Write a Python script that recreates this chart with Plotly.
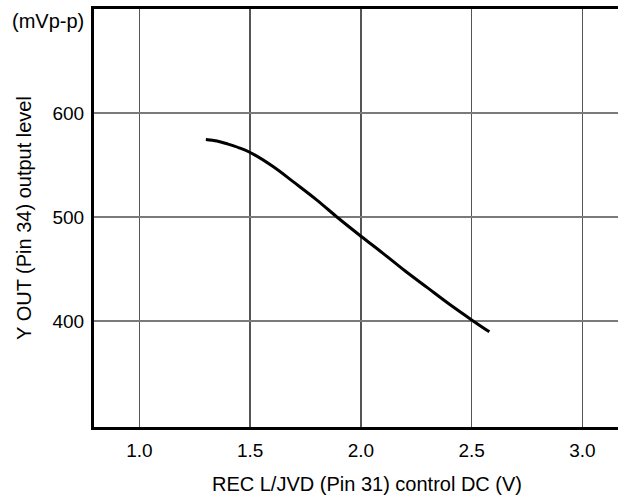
import plotly.graph_objects as go

voltage = [1.3, 1.35, 1.4, 1.45, 1.5, 1.6, 1.7, 1.8, 1.9, 2.0, 2.1, 2.2, 2.3, 2.4, 2.5, 2.58]
level = [574.5, 573, 570, 566.5, 562, 549, 533, 516.5, 498.5, 481.5, 465, 448, 432, 416, 401, 389.5]

x_ticks = [1.0, 1.5, 2.0, 2.5, 3.0]
x_tick_labels = ["1.0", "1.5", "2.0", "2.5", "3.0"]
y_ticks = [400, 500, 600]
y_tick_labels = ["400", "500", "600"]

FONT = "Liberation Sans, Arial, sans-serif"
FS = 19
TFS = 20

fig = go.Figure()
fig.add_trace(go.Scatter(
    x=voltage, y=level, mode="lines",
    line=dict(color="black", width=3, shape="spline", smoothing=1.0),
    showlegend=False, hoverinfo="skip",
))

fig.update_layout(
    width=640, height=497,
    margin=dict(l=94, r=0, t=9, b=70, autoexpand=False),
    paper_bgcolor="white", plot_bgcolor="white",
    font=dict(family=FONT, size=FS, color="black"),
    xaxis=dict(
        range=[0.795, 3.26],
        tickvals=x_ticks, ticktext=x_tick_labels,
        showgrid=True, gridcolor="#555555", gridwidth=1.5,
        showline=True, linecolor="black", linewidth=3, mirror=True,
        ticks="", zeroline=False, automargin=False,
        tickfont=dict(size=FS), ticklabelstandoff=4,
        title=dict(text="REC L/JVD (Pin 31) control DC (V)", font=dict(size=TFS), standoff=18),
    ),
    yaxis=dict(
        range=[298, 700],
        tickvals=y_ticks, ticktext=y_tick_labels,
        showgrid=True, gridcolor="#7a7a7a", gridwidth=1.5,
        showline=True, linecolor="black", linewidth=3,
        ticks="", zeroline=False, automargin=False,
        tickfont=dict(size=FS), ticklabelstandoff=3,
        title=dict(text="Y OUT (Pin 34) output level", font=dict(size=TFS), standoff=16),
    ),
    annotations=[dict(
        text="(mVp-p)", xref="paper", yref="paper", x=0, y=1.0,
        xanchor="right", yanchor="middle", xshift=-8, yshift=-12, showarrow=False,
        font=dict(size=TFS),
    )],
)

fig.write_html(
    "out.html",
    config={"displayModeBar": False, "staticPlot": True},
    post_script="document.documentElement.style.overflow='hidden';document.body.style.margin='0';document.body.style.overflow='hidden';",
)
